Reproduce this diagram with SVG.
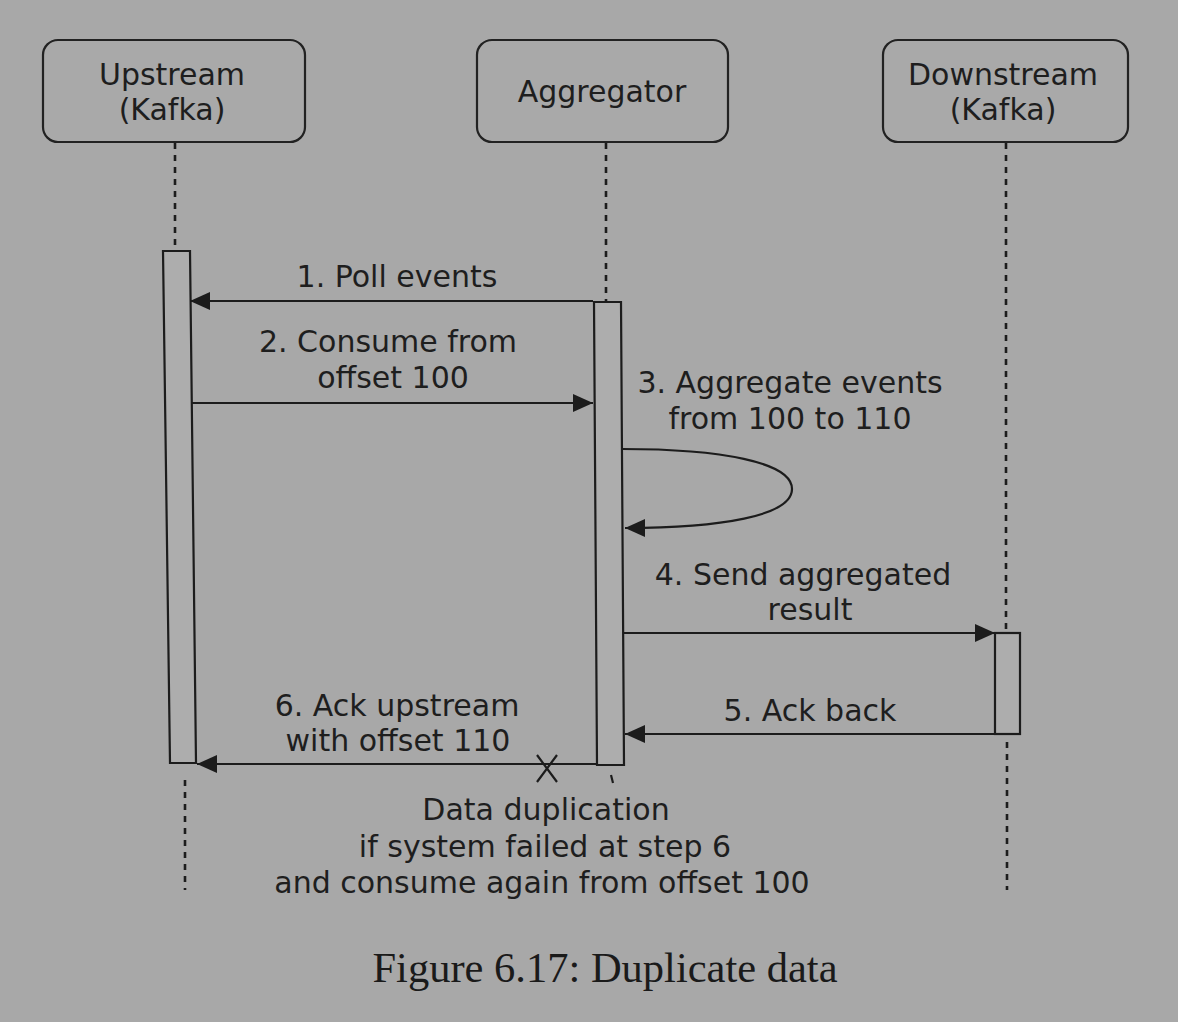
<svg xmlns="http://www.w3.org/2000/svg" width="1178" height="1022" viewBox="0 0 1178 1022">
<style>
.bg{fill:#a8a8a8}
.box{fill:#a9a9a9;stroke:#222;stroke-width:2.2}
.act{fill:#adadad;stroke:#1c1c1c;stroke-width:2.2}
.life{stroke:#1c1c1c;stroke-width:2.6;stroke-dasharray:6 6;fill:none}
.msg{stroke:#1c1c1c;stroke-width:2.2;fill:none}
.t{font-family:"DejaVu Sans",Verdana,sans-serif;font-size:30px;fill:#1e1e1e;text-anchor:middle}
.cap{font-family:"Liberation Serif","Times New Roman",serif;font-size:42.5px;fill:#1a1a1a;text-anchor:middle}
</style>
<defs>
<marker id="ah" viewBox="0 0 20 18" refX="20" refY="9" markerWidth="20" markerHeight="18" markerUnits="userSpaceOnUse" orient="auto">
<path d="M0,0 L20,9 L0,18 Z" fill="#1c1c1c"/>
</marker>
</defs>
<rect class="bg" x="0" y="0" width="1178" height="1022"/>

<g id="upstream">
<rect class="box" x="43" y="40" width="262" height="102" rx="15"/>
<text class="t" x="172" y="85">Upstream</text>
<text class="t" x="172" y="120">(Kafka)</text>
<line class="life" x1="175" y1="143" x2="175" y2="250"/>
<polygon class="act" points="163,251 190,251 196,763 170,763"/>
<line class="life" x1="185" y1="780" x2="185" y2="890"/>
</g>

<g id="aggregator">
<rect class="box" x="477" y="40" width="251" height="102" rx="15"/>
<text class="t" x="602" y="102">Aggregator</text>
<line class="life" x1="606" y1="143" x2="606" y2="302"/>
<polygon class="act" points="594,302 621,302 624,765 597,765"/>
<line class="msg" x1="611" y1="775" x2="613" y2="783"/>
</g>

<g id="downstream">
<rect class="box" x="883" y="40" width="245" height="102" rx="15"/>
<text class="t" x="1003" y="85">Downstream</text>
<text class="t" x="1003" y="120">(Kafka)</text>
<line class="life" x1="1006" y1="143" x2="1006" y2="632"/>
<rect class="act" x="995" y="633" width="25" height="101"/>
<line class="life" x1="1007" y1="742" x2="1007" y2="890"/>
</g>

<g id="connectors">
<line class="msg" x1="593" y1="301" x2="190" y2="301" marker-end="url(#ah)"/>
<line class="msg" x1="191" y1="403" x2="593" y2="403" marker-end="url(#ah)"/>
<path class="msg" d="M622,449 C720,449 792,462 792,489 C792,516 720,528 625,528" marker-end="url(#ah)"/>
<line class="msg" x1="623" y1="633" x2="995" y2="633" marker-end="url(#ah)"/>
<line class="msg" x1="995" y1="734" x2="625" y2="734" marker-end="url(#ah)"/>
<line class="msg" x1="597" y1="764" x2="197" y2="764" marker-end="url(#ah)"/>
<path class="msg" d="M537,755 L557,782 M557,755 L537,782"/>
</g>

<g id="labels">
<text class="t" x="397" y="287">1. Poll events</text>
<text class="t" x="388" y="352">2. Consume from</text>
<text class="t" x="393" y="388">offset 100</text>
<text class="t" x="790" y="393">3. Aggregate events</text>
<text class="t" x="790" y="429">from 100 to 110</text>
<text class="t" x="803" y="585">4. Send aggregated</text>
<text class="t" x="810" y="620">result</text>
<text class="t" x="810" y="721">5. Ack back</text>
<text class="t" x="397" y="716">6. Ack upstream</text>
<text class="t" x="398" y="751">with offset 110</text>
<text class="t" x="546" y="820">Data duplication</text>
<text class="t" x="545" y="857">if system failed at step 6</text>
<text class="t" x="542" y="893">and consume again from offset 100</text>
</g>

<text class="cap" x="605" y="982">Figure 6.17: Duplicate data</text>
</svg>
